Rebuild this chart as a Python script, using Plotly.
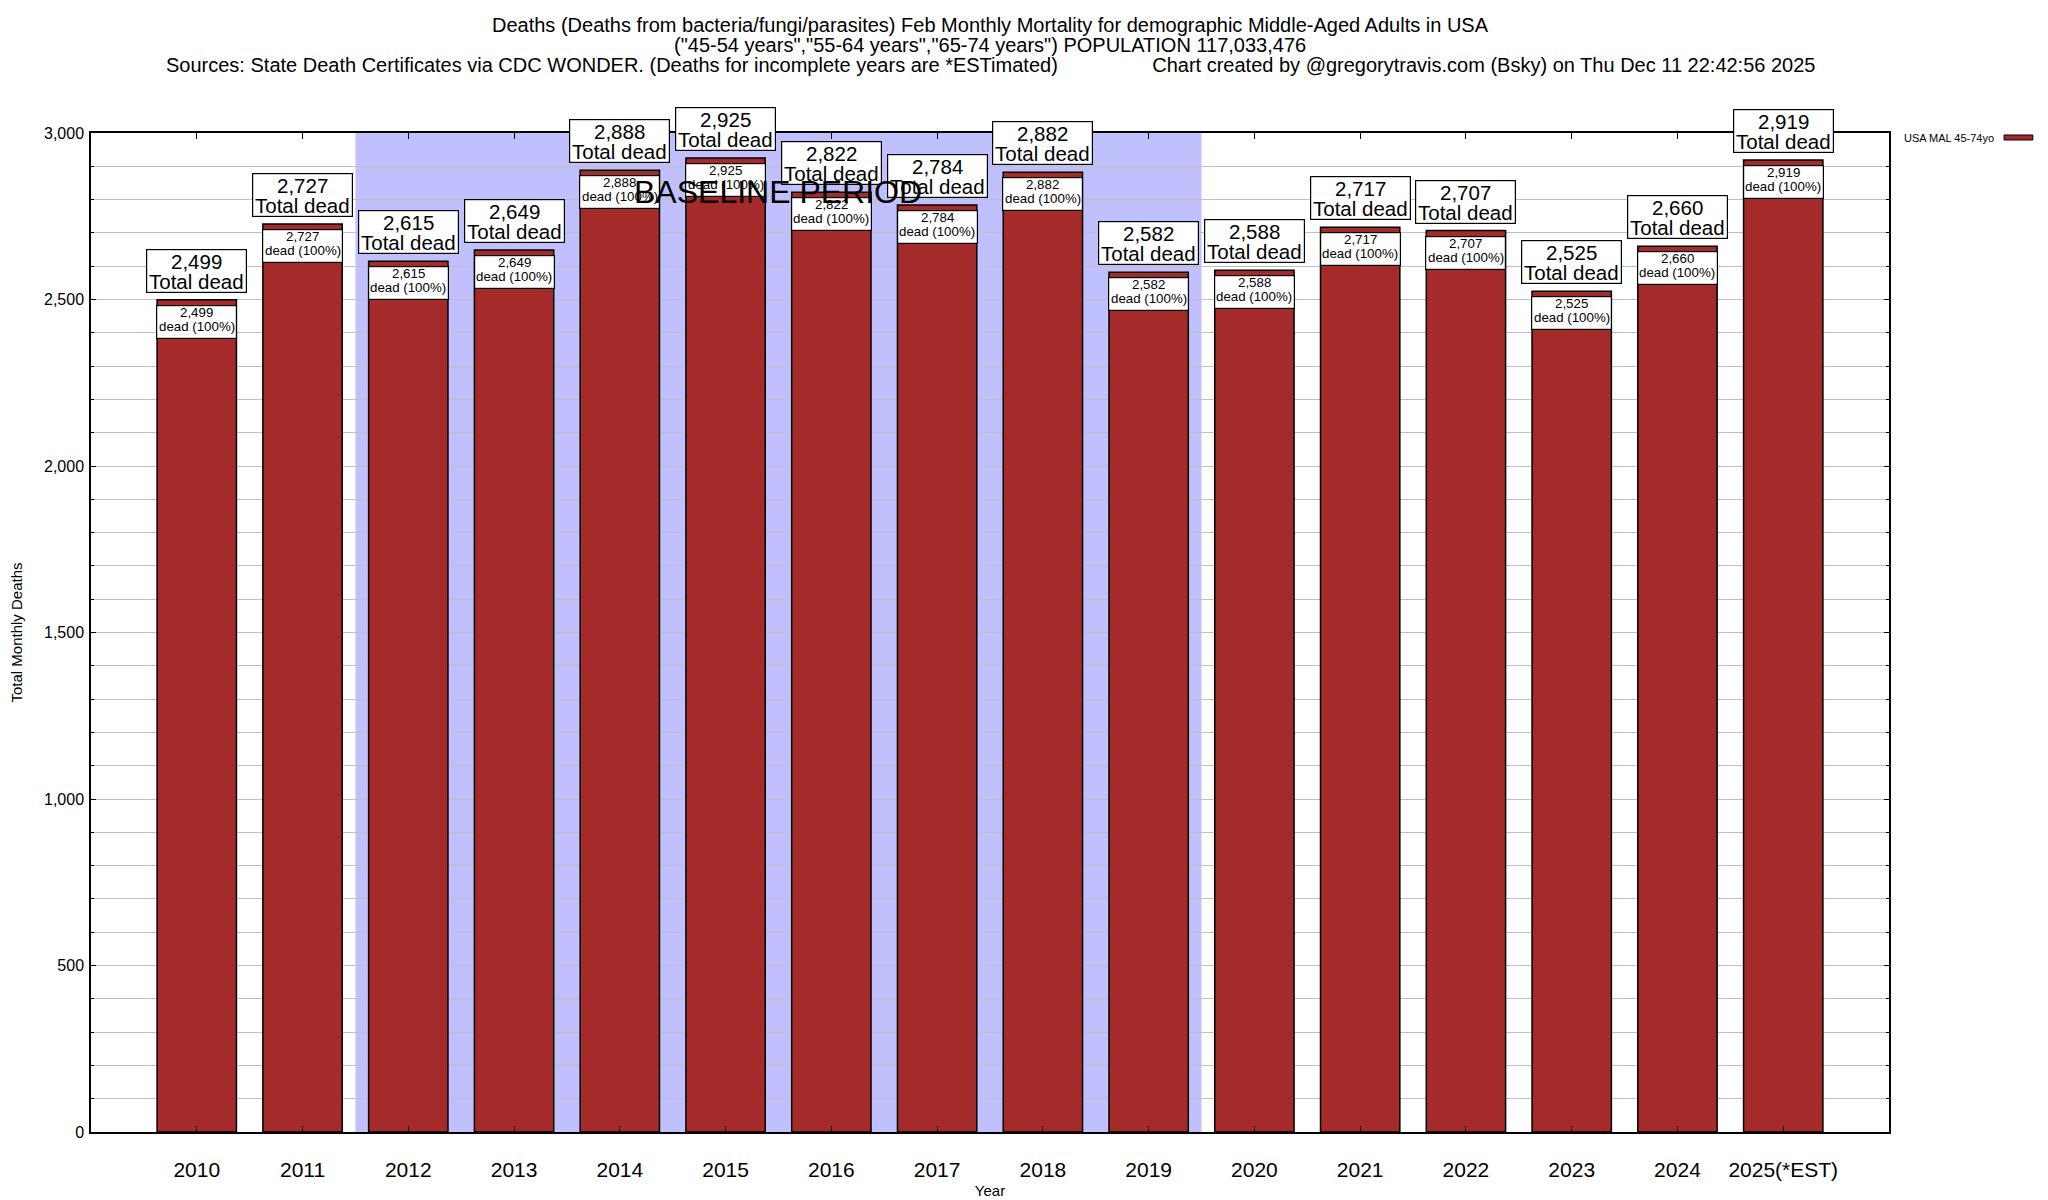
import plotly.graph_objects as go

years = ["2010", "2011", "2012", "2013", "2014", "2015", "2016", "2017",
         "2018", "2019", "2020", "2021", "2022", "2023", "2024", "2025(*EST)"]
deaths = [2499, 2727, 2615, 2649, 2888, 2925, 2822, 2784,
          2882, 2582, 2588, 2717, 2707, 2525, 2660, 2919]
series_name = "USA MAL 45-74yo"
baseline_start_idx = 1.5
baseline_end_idx = 9.5
title_lines = [
    "Deaths (Deaths from bacteria/fungi/parasites) Feb Monthly Mortality for demographic Middle-Aged Adults in USA",
    "(\"45-54 years\",\"55-64 years\",\"65-74 years\") POPULATION 117,033,476",
    "Sources: State Death Certificates via CDC WONDER. (Deaths for incomplete years are *ESTimated)"
    + "\u00a0" * 17 + "Chart created by @gregorytravis.com (Bsky) on Thu Dec 11 22:42:56 2025",
]

FONT = "Liberation Sans, Arial, sans-serif"
BAR_COLOR = "#a52a2a"

fig = go.Figure()
fig.add_trace(go.Bar(
    x=years, y=deaths, width=0.75, name=series_name,
    marker=dict(color=BAR_COLOR, line=dict(color="black", width=1.5)),
    showlegend=False,
))

# Baseline shading
fig.add_shape(type="rect", xref="x", yref="paper",
              x0=baseline_start_idx, x1=baseline_end_idx, y0=0, y1=1,
              fillcolor="#c0c0ff", line=dict(width=0), layer="below")

annotations = []
for i, v in enumerate(deaths):
    # "Total dead" box above the bar
    annotations.append(dict(
        x=i, y=v, xref="x", yref="y", text="", showarrow=False,
        width=99, height=42, bgcolor="white", bordercolor="black",
        borderwidth=1.2, borderpad=0, yanchor="bottom", yshift=7,
    ))
    for txt, ys in ((f"{v:,}", 38.5), ("Total dead", 18.5)):
        annotations.append(dict(
            x=i, y=v, xref="x", yref="y", text=txt, showarrow=False,
            font=dict(family=FONT, size=20.5, color="black"),
            yanchor="middle", yshift=ys,
        ))
    # inner label box at top of the bar
    annotations.append(dict(
        x=i, y=v, xref="x", yref="y", text="", showarrow=False,
        width=79, height=32, bgcolor="white", bordercolor="black",
        borderwidth=1.2, borderpad=0, yanchor="top", yshift=-5,
    ))
    for txt, ys in ((f"{v:,}", -12.5), ("dead (100%)", -26.5)):
        annotations.append(dict(
            x=i, y=v, xref="x", yref="y", text=txt, showarrow=False,
            font=dict(family=FONT, size=13.3, color="black"),
            yanchor="middle", yshift=ys,
        ))

annotations.append(dict(
    x=5.5, y=2822, xref="x", yref="y", text="BASELINE PERIOD",
    showarrow=False, font=dict(family=FONT, size=32, color="black"),
    xanchor="center", yanchor="middle",
))

# Title lines
for ty, line in zip([1.1086, 1.0881, 1.0681], title_lines):
    annotations.append(dict(
        x=0.5, y=ty, xref="paper", yref="paper", text=line,
        showarrow=False, font=dict(family=FONT, size=20, color="black"),
        xanchor="center", yanchor="middle",
    ))

# Legend (text followed by swatch)
annotations.append(dict(
    x=1.0596, y=0.9954, xref="paper", yref="paper", text=series_name,
    showarrow=False, font=dict(family=FONT, size=11, color="black"),
    xanchor="right", yanchor="middle",
))
fig.add_shape(type="rect", xref="paper", yref="paper",
              x0=1.064, x1=1.080, y0=0.993, y1=0.998,
              fillcolor=BAR_COLOR, line=dict(color="black", width=1))

fig.update_layout(
    width=2048, height=1200,
    margin=dict(l=83, r=167, t=125, b=76),
    paper_bgcolor="white", plot_bgcolor="white",
    font=dict(family=FONT, color="black"),
    annotations=annotations,
    bargap=0.25,
)

fig.update_xaxes(
    type="category", range=[-1, 16], automargin=False,
    showline=True, linecolor="black", linewidth=1.5, mirror="ticks",
    ticks="inside", ticklen=6, tickcolor="black",
    tickfont=dict(family=FONT, size=21, color="black"),
    ticklabelstandoff=18,
    showgrid=False,
    title=dict(text="Year", font=dict(family=FONT, size=15, color="black"), standoff=6),
)
fig.update_yaxes(
    range=[0, 3000], dtick=500, tickformat=",", automargin=False,
    showline=True, linecolor="black", linewidth=1.5, mirror="ticks",
    ticks="inside", ticklen=5, tickcolor="black",
    tickfont=dict(family=FONT, size=16, color="black"),
    ticklabelstandoff=2,
    showgrid=True, gridcolor="#c0c0c0", gridwidth=1.2,
    minor=dict(dtick=100, showgrid=True, gridcolor="#c0c0c0", gridwidth=1.2,
               ticks="inside", ticklen=3, tickcolor="black"),
    zeroline=False,
    title=dict(text="Total Monthly Deaths", font=dict(family=FONT, size=15, color="black"), standoff=20),
)

fig.write_html("out.html")
